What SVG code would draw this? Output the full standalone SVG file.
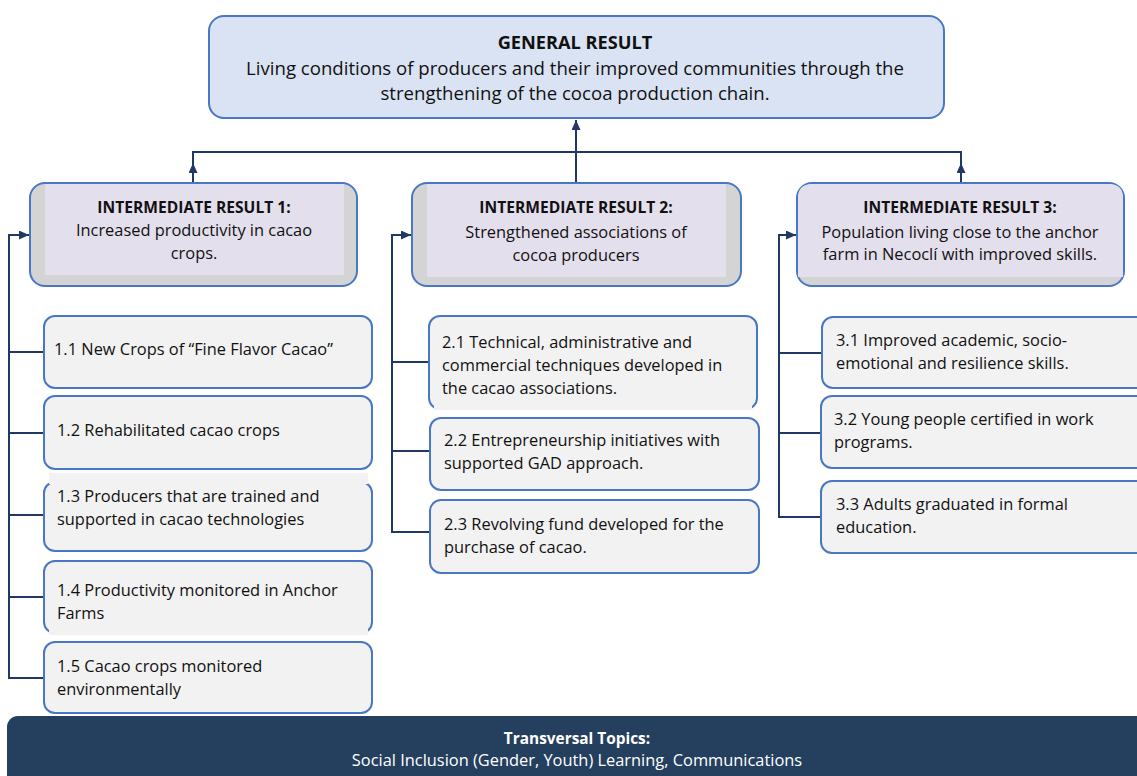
<svg xmlns="http://www.w3.org/2000/svg" width="1137" height="776" viewBox="0 0 1137 776">
<style>
  text { font-family: "Open Sans", Lato, "Liberation Sans", sans-serif; fill: #111; }
  .gen { font-size: 18.6px; text-anchor: middle; }
  .genb { font-size: 18.2px; text-anchor: middle; font-weight: bold; }
  .ir { font-size: 16.4px; text-anchor: middle; }
  .irb { font-size: 15.6px; text-anchor: middle; font-weight: bold; }
  .it { font-size: 16.4px; }
  .box { stroke: #4a76c6; stroke-width: 2; }
  .item { fill: #f2f2f2; stroke: #4a76c6; stroke-width: 2; }
  .con { fill: none; stroke: #1f3864; stroke-width: 2; }
  .band { fill: #253f5f; }
  .bt { font-size: 16.4px; text-anchor: middle; fill: #ffffff; }
  .btb { font-size: 15.4px; text-anchor: middle; fill: #ffffff; font-weight: bold; }
</style>
<defs>
  <marker id="ah" markerUnits="userSpaceOnUse" markerWidth="10" markerHeight="9" refX="10" refY="4.5" orient="auto">
    <path d="M0,0 L10,4.5 L0,9 z" fill="#1f3864"/>
  </marker>
</defs>
<rect width="1137" height="776" fill="#ffffff"/>

<g id="connectors">
  <path class="con" d="M576 183 V120" marker-end="url(#ah)"/>
  <path class="con" d="M193 164 V152 H961 V164"/>
  <path class="con" d="M193 183 V163" marker-end="url(#ah)"/>
  <path class="con" d="M961 183 V163" marker-end="url(#ah)"/>
  <path class="con" d="M44 678 H9 V235 H29" marker-end="url(#ah)"/>
  <path class="con" d="M9 352 H44 M9 433 H44 M9 515 H44 M9 597 H44"/>
  <path class="con" d="M429 532 H392 V235 H411" marker-end="url(#ah)"/>
  <path class="con" d="M392 362 H429 M392 451 H430"/>
  <path class="con" d="M822 517 H779 V235 H796" marker-end="url(#ah)"/>
  <path class="con" d="M779 353 H822 M779 433 H821"/>
</g>

<g id="general">
  <rect class="box" x="209" y="16" width="735" height="102" rx="15" fill="#dae3f3"/>
  <text class="genb" x="575" y="49">GENERAL RESULT</text>
  <text class="gen" x="575" y="75">Living conditions of producers and their improved communities through the</text>
  <text class="gen" x="575" y="100">strengthening of the cocoa production chain.</text>
</g>

<g id="ir1">
  <rect class="box" x="30" y="183" width="327" height="103" rx="15" fill="#d4d4d4"/>
  <rect x="45" y="184" width="299" height="91" fill="#e4dfec"/>
  <text class="irb" x="194" y="213">INTERMEDIATE RESULT 1:</text>
  <text class="ir" x="194" y="236">Increased productivity in cacao</text>
  <text class="ir" x="194" y="259">crops.</text>
</g>

<g id="ir2">
  <rect class="box" x="412" y="183" width="329" height="103" rx="15" fill="#d4d4d4"/>
  <rect x="427" y="184" width="299" height="93" fill="#e4dfec"/>
  <text class="irb" x="576" y="213">INTERMEDIATE RESULT 2:</text>
  <text class="ir" x="576" y="238">Strengthened associations of</text>
  <text class="ir" x="576" y="261">cocoa producers</text>
</g>

<g id="ir3">
  <rect class="box" x="797" y="183" width="327" height="103" rx="15" fill="#d4d4d4"/>
  <path d="M798 277 V198 Q798 184 812 184 H1109 Q1123 184 1123 198 V277 Z" fill="#e4dfec"/>
  <text class="irb" x="960" y="213">INTERMEDIATE RESULT 3:</text>
  <text class="ir" x="960" y="238">Population living close to the anchor</text>
  <text class="ir" x="960" y="260">farm in Necoclí with improved skills.</text>
</g>

<g id="item11">
  <rect class="item" x="44" y="316" width="328" height="72" rx="11"/>
  <text class="it" x="54" y="355">1.1 New Crops of “Fine Flavor Cacao”</text>
</g>
<g id="item12">
  <rect class="item" x="44" y="396" width="328" height="73" rx="11"/>
  <text class="it" x="57" y="436">1.2 Rehabilitated cacao crops</text>
</g>
<g id="item13">
  <rect class="item" x="44" y="482" width="328" height="69" rx="11"/>
  <rect x="49" y="473" width="319" height="11" fill="#f2f2f2"/>
  <text class="it" x="57" y="502">1.3 Producers that are trained and</text>
  <text class="it" x="57" y="525">supported in cacao technologies</text>
</g>
<g id="item14">
  <rect class="item" x="44" y="561" width="328" height="72" rx="11"/>
  <rect x="49" y="624" width="319" height="11" fill="#f2f2f2"/>
  <text class="it" x="57" y="596">1.4 Productivity monitored in Anchor</text>
  <text class="it" x="57" y="619">Farms</text>
</g>
<g id="item15">
  <rect class="item" x="44" y="642" width="328" height="71" rx="11"/>
  <text class="it" x="57" y="672">1.5 Cacao crops monitored</text>
  <text class="it" x="57" y="695">environmentally</text>
</g>

<g id="item21">
  <rect class="item" x="429" y="316" width="328" height="93" rx="11"/>
  <rect x="434" y="402" width="318" height="8" fill="#f2f2f2"/>
  <text class="it" x="442" y="348">2.1 Technical, administrative and</text>
  <text class="it" x="442" y="371">commercial techniques developed in</text>
  <text class="it" x="442" y="394">the cacao associations.</text>
</g>
<g id="item22">
  <rect class="item" x="430" y="418" width="329" height="72" rx="11"/>
  <text class="it" x="444" y="446">2.2 Entrepreneurship initiatives with</text>
  <text class="it" x="444" y="469">supported GAD approach.</text>
</g>
<g id="item23">
  <rect class="item" x="430" y="500" width="329" height="73" rx="11"/>
  <text class="it" x="444" y="530">2.3 Revolving fund developed for the</text>
  <text class="it" x="444" y="553">purchase of cacao.</text>
</g>

<g id="item31">
  <rect class="item" x="822" y="317" width="330" height="71" rx="11"/>
  <text class="it" x="836" y="346">3.1 Improved academic, socio-</text>
  <text class="it" x="836" y="369">emotional and resilience skills.</text>
</g>
<g id="item32">
  <rect class="item" x="821" y="396" width="331" height="72" rx="11"/>
  <text class="it" x="834" y="425">3.2 Young people certified in work</text>
  <text class="it" x="834" y="448">programs.</text>
</g>
<g id="item33">
  <rect class="item" x="821" y="481" width="331" height="72" rx="11"/>
  <text class="it" x="836" y="510">3.3 Adults graduated in formal</text>
  <text class="it" x="836" y="533">education.</text>
</g>

<g id="transversal">
  <rect class="band" x="7" y="716" width="1150" height="80" rx="11"/>
  <text class="btb" x="577" y="744">Transversal Topics:</text>
  <text class="bt" x="577" y="766">Social Inclusion (Gender, Youth) Learning, Communications</text>
</g>
</svg>
